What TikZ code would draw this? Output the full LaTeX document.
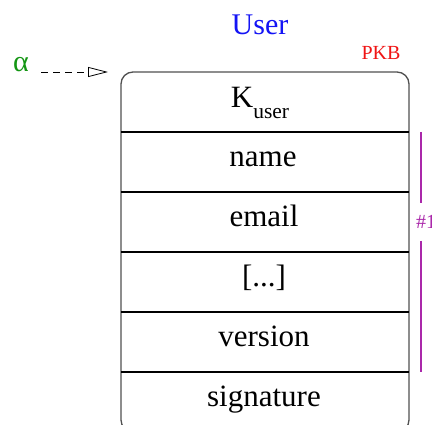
\documentclass[tikz,border=0pt]{standalone}
\usepackage{fontspec}
\setmainfont{Liberation Serif}
\usetikzlibrary{arrows.meta}
\definecolor{titleblue}{RGB}{20,20,245}
\definecolor{keyred}{RGB}{240,20,20}
\definecolor{alphagreen}{RGB}{20,150,20}
\definecolor{spanmag}{RGB}{170,40,170}
\definecolor{boxgray}{RGB}{80,80,80}
\tikzset{
  field/.style={font=\fontsize{31}{34}\selectfont, inner sep=0pt, anchor=base},
  rowline/.style={line width=1.1pt, black},
  frame/.style={line width=1.3pt, draw=boxgray, rounded corners=12pt},
}
\begin{document}
\begin{tikzpicture}[x=1pt,y=-1pt]
  \useasboundingbox[clip] (0,0) rectangle (432,425);
  \fill[white] (0,0) rectangle (432,425);
  % record frame and row separators
  \draw[frame] (121,72) rectangle (409,432);
  \foreach \yy in {132,192,252,312,372}
    \draw[rowline] (121,\yy) -- (409,\yy);
  % field labels (placed on their baselines)
  \node[field] (kuser) at (260,108) {K\raisebox{-11pt}{\fontsize{21.5}{24}\selectfont user}};
  \node[field] (name) at (263,167) {name};
  \node[field] (email) at (264,227) {email};
  \node[field] (etc) at (264,287) {[...]};
  \node[field] (version) at (264,347) {version};
  \node[field] (sig) at (264,407) {signature};
  % title and key tag
  \node[font=\fontsize{30}{32}\selectfont, text=titleblue, inner sep=0pt, anchor=base] (title) at (260,35) {User};
  \node[font=\fontsize{20}{22}\selectfont, text=keyred, inner sep=0pt, anchor=base] (pkb) at (381,60) {PKB};
  % incoming reference
  \node[font=\fontsize{30}{32}\selectfont, text=alphagreen, inner sep=0pt, anchor=base west] (alpha) at (13,72) {α};
  \coordinate (tip) at (108,72);
  \draw[line width=0.8pt, dash pattern=on 7pt off 5pt,
        -{Triangle[open, length=20pt, width=10pt, line width=0.8pt]}]
        (41,72) -- (tip);
  % span marker on the right
  \node[font=\fontsize{20}{22}\selectfont, text=spanmag, anchor=west, inner sep=0pt] (span) at (416,222) {\#1};
  \coordinate (spantop) at (421,132);
  \coordinate (spanbot) at (421,372);
  \draw[line width=1.4pt, spanmag] (spantop) -- (421,203);
  \draw[line width=1.4pt, spanmag] (421,241) -- (spanbot);
\end{tikzpicture}
\end{document}
